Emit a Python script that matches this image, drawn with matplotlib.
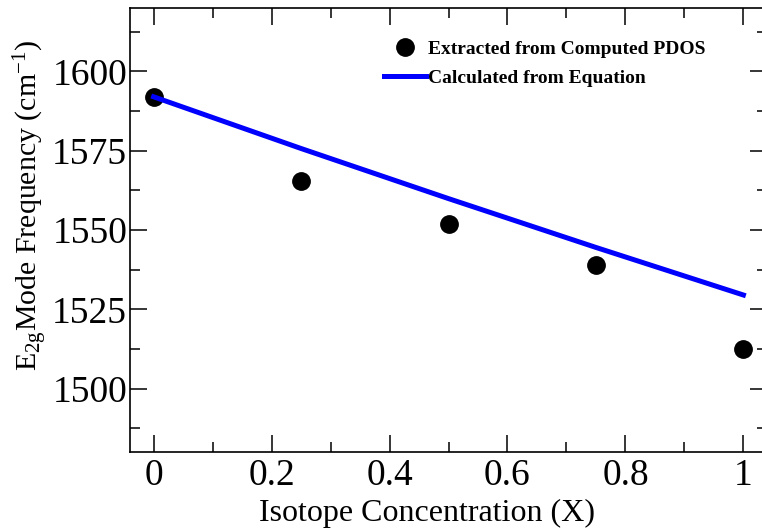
import matplotlib
matplotlib.use("Agg")
import matplotlib.pyplot as plt
from matplotlib.ticker import MultipleLocator

# isotope concentration and E2g frequencies (cm^-1)
conc = [0.0, 0.25, 0.5, 0.75, 1.0]
freq_pdos = [1592.0, 1565.5, 1552.0, 1539.0, 1512.5]
freq_eqn = [1592.0, 1575.7, 1559.9, 1544.5, 1529.5]

label_pdos = "Extracted from Computed PDOS"
label_eqn = "Calculated from Equation"

plt.rcParams["font.family"] = ["Liberation Serif", "DejaVu Serif"]
plt.rcParams["mathtext.fontset"] = "custom"
plt.rcParams["mathtext.rm"] = "Liberation Serif"
plt.rcParams["mathtext.it"] = "Liberation Serif:italic"

fig = plt.figure(figsize=(7.62, 5.29), dpi=100)
ax = fig.add_axes([130 / 762, 77 / 529, 637 / 762, 444 / 529])

ax.plot(conc, freq_pdos, "o", color="black", markersize=12.5, label=label_pdos, zorder=3)
ax.plot(conc, freq_eqn, "-", color="#0000ff", linewidth=3.6, label=label_eqn, zorder=4)

ax.set_xlim(-0.04, 1.04)
ax.set_ylim(1480, 1620)

ax.xaxis.set_major_locator(MultipleLocator(0.2))
ax.xaxis.set_minor_locator(MultipleLocator(0.1))
ax.yaxis.set_major_locator(MultipleLocator(25))
ax.yaxis.set_minor_locator(MultipleLocator(12.5))
ax.set_xticks([0, 0.2, 0.4, 0.6, 0.8, 1.0])
ax.set_xticklabels(["0", "0.2", "0.4", "0.6", "0.8", "1"])

ax.tick_params(which="both", direction="in", top=True, right=True, width=1.1)
ax.tick_params(which="major", length=12, labelsize=27)
ax.tick_params(axis="y", which="major", pad=2)
ax.tick_params(axis="x", which="major", pad=5)
ax.tick_params(which="minor", length=7)
for s in ax.spines.values():
    s.set_linewidth(1.2)

ax.set_xlabel("Isotope Concentration (X)", fontsize=23)
ax.xaxis.set_label_coords(0.466, -0.105)
ax.set_ylabel("E$_{\\mathrm{2g}}$Mode Frequency (cm$^{\\mathrm{-1}}$)", fontsize=21.5)
ax.yaxis.set_label_coords(-0.126, 0.556)

ax.legend(loc="upper left", bbox_to_anchor=(0.372, 0.966), frameon=False,
          prop={"weight": "bold", "size": 14}, handlelength=2.16,
          handletextpad=0.1, labelspacing=0.55, numpoints=1)

fig.savefig("out.png", dpi=100)
